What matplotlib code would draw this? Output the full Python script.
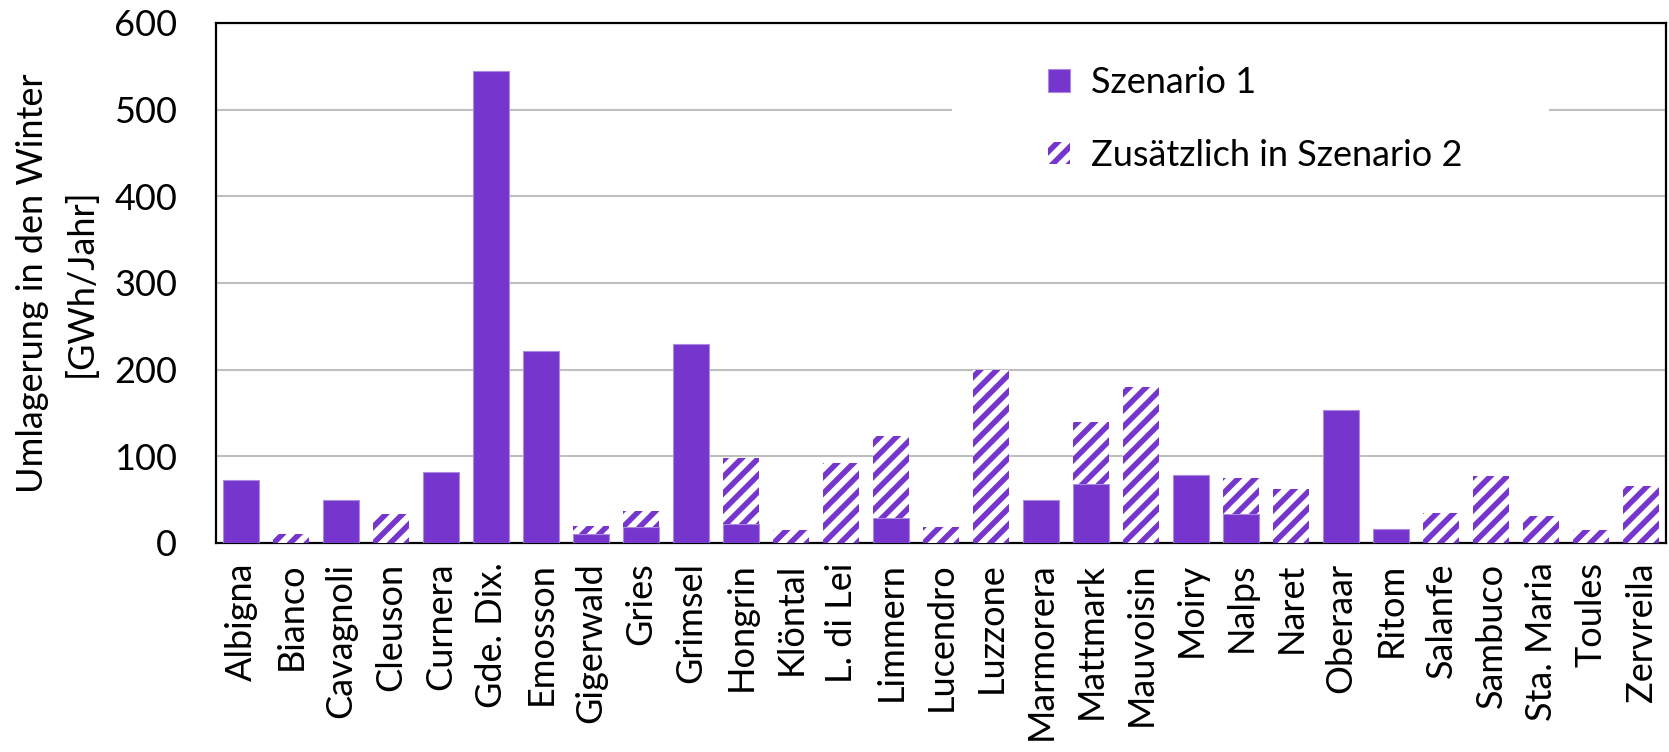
import matplotlib
matplotlib.use("Agg")
import matplotlib.pyplot as plt
import numpy as np
from matplotlib.patches import Rectangle

categories = ["Albigna", "Bianco", "Cavagnoli", "Cleuson", "Curnera", "Gde. Dix.", "Emosson",
              "Gigerwald", "Gries", "Grimsel", "Hongrin", "Klöntal", "L. di Lei", "Limmern",
              "Lucendro", "Luzzone", "Marmorera", "Mattmark", "Mauvoisin", "Moiry", "Nalps",
              "Naret", "Oberaar", "Ritom", "Salanfe", "Sambuco", "Sta. Maria", "Toules", "Zervreila"]
szenario1 = [73, 0, 50, 0, 82, 545, 221, 10, 18, 230, 22, 0, 0, 29, 0, 0, 50, 68, 0, 78,
             34, 0, 154, 16, 0, 0, 0, 0, 0]
zusaetzlich = [0, 10, 0, 34, 0, 0, 0, 10, 19, 0, 76, 15, 92, 95, 18, 200, 0, 72, 180, 0,
               41, 62, 0, 0, 35, 77, 31, 15, 66]
yticks = [0, 100, 200, 300, 400, 500, 600]

purple = "#7636CD"
plt.rcParams["font.family"] = ["Lato", "DejaVu Sans"]
plt.rcParams["hatch.linewidth"] = 4.0

fig = plt.figure(figsize=(16.69, 7.52), dpi=100)
ax = fig.add_axes([216/1669, 1-543/752, 1450/1669, 520/752])

x = np.arange(len(categories))
w = 0.72
ax.bar(x, szenario1, width=w, color=purple, edgecolor="#A98BE0", linewidth=0.8,
       label="Szenario 1", zorder=3)
ax.bar(x, zusaetzlich, width=w, bottom=szenario1, facecolor="white", edgecolor=purple,
       linewidth=0, hatch="//", label="Zusätzlich in Szenario 2", zorder=3)

ax.set_xlim(-0.5, len(categories) - 0.5)
ax.set_ylim(0, 600)
ax.set_yticks(yticks)
ax.set_xticks(x)
ax.set_xticklabels(categories, rotation=90)
ax.tick_params(axis="both", length=0, labelsize=26)
ax.tick_params(axis="y", pad=28)
ax.tick_params(axis="x", pad=14)
ax.set_axisbelow(True)
ax.yaxis.grid(True, color="#BFBFBF", linewidth=1.5)
for s in ax.spines.values():
    s.set_color("black")
    s.set_linewidth(1.6)

ax.set_ylabel("Umlagerung in den Winter\n[GWh/Jahr]", fontsize=26, labelpad=12,
              linespacing=1.5)

# white background behind the legend (hides the gridline there)
bg = Rectangle((952/1669, 1-185/752), 597/1669, 145/752, transform=fig.transFigure,
               facecolor="white", edgecolor="none", zorder=1)
ax.add_patch(bg)

leg = ax.legend(loc="upper left", bbox_to_anchor=(1048/1669, 1-66/752),
                bbox_transform=fig.transFigure, frameon=False, fontsize=26,
                handlelength=0.6, handleheight=0.6, handletextpad=0.6,
                labelspacing=1.1, borderpad=0, borderaxespad=0)
leg.set_zorder(5)

fig.savefig("out.png", dpi=100)
